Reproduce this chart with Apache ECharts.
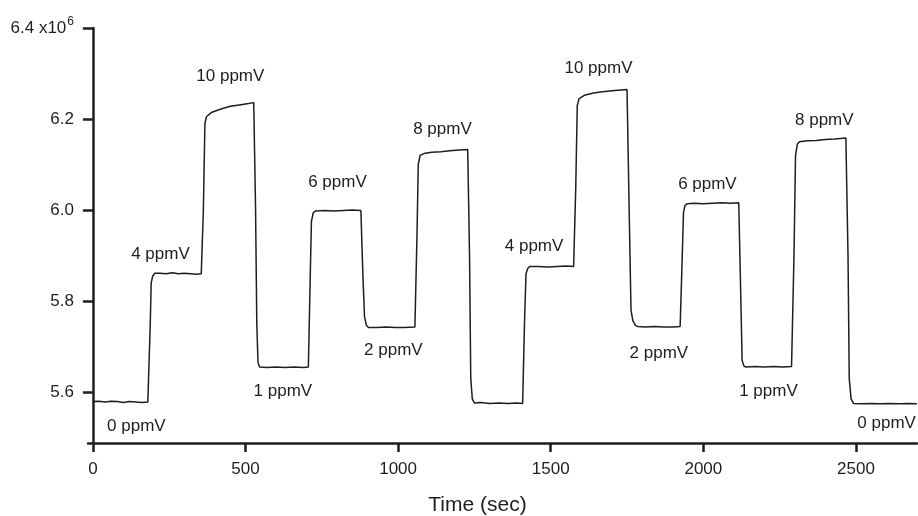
<!DOCTYPE html>
<html>
<head>
<meta charset="utf-8">
<script src="https://cdn.jsdelivr.net/npm/echarts@6/dist/echarts.min.js"></script>
<style>html,body{margin:0;padding:0;background:#fff}#c{width:918px;height:516px}</style>
</head>
<body>
<div id="c"></div>
<script>
// Time (sec) and signal (x10^6 a.u.)
const timeSec = [
 0,20,40,60,80,100,120,140,160,180,
 184,188,191,196,203,
 220,240,260,280,300,320,340,355,
 358,362,367,372,390,420,450,480,510,527,
 530,533,537,541,546,
 570,600,630,660,690,706,
 708,712,716,722,730,
 760,790,820,850,878,
 881,885,890,896,903,
 930,960,990,1020,1055,
 1058,1062,1066,1072,1085,1110,1140,1170,1200,1228,
 1231,1234,1238,1243,1250,
 1270,1300,1330,1360,1390,1408,
 1410,1414,1419,1425,1432,
 1460,1490,1520,1550,1575,
 1578,1582,1587,1593,1610,1640,1670,1700,1730,1750,
 1753,1757,1763,1769,1778,1786,
 1810,1840,1870,1900,1924,
 1927,1931,1935,1940,1947,
 1970,2000,2030,2060,2090,2116,
 2119,2123,2127,2133,2140,
 2170,2200,2230,2260,2289,
 2292,2297,2302,2308,2315,2340,2370,2400,2430,2467,
 2470,2474,2478,2484,2492,
 2520,2550,2580,2610,2640,2670,2700
];
const signal = [
 5.579,5.580,5.578,5.580,5.579,5.577,5.579,5.578,5.577,5.578,
 5.580,5.750,5.840,5.855,5.861,
 5.861,5.860,5.862,5.860,5.861,5.860,5.859,5.860,
 5.862,6.000,6.190,6.205,6.215,6.222,6.228,6.231,6.234,6.236,
 6.235,6.000,5.750,5.665,5.655,
 5.654,5.655,5.654,5.655,5.654,5.655,
 5.656,5.850,5.975,5.994,5.998,
 5.999,5.998,5.999,6.000,5.999,
 5.998,5.850,5.765,5.747,5.742,
 5.742,5.743,5.742,5.742,5.743,
 5.744,5.950,6.100,6.120,6.124,6.127,6.128,6.130,6.132,6.133,
 6.132,5.900,5.630,5.585,5.576,
 5.577,5.575,5.576,5.575,5.576,5.575,
 5.576,5.750,5.860,5.872,5.876,
 5.876,5.875,5.876,5.877,5.876,
 5.878,6.050,6.230,6.245,6.252,6.257,6.260,6.262,6.264,6.265,
 6.264,6.000,5.780,5.757,5.746,5.744,
 5.743,5.744,5.743,5.743,5.744,
 5.745,5.900,5.995,6.010,6.014,
 6.015,6.014,6.015,6.016,6.015,6.016,
 6.015,5.800,5.670,5.657,5.655,
 5.656,5.655,5.656,5.655,5.656,
 5.658,5.900,6.120,6.145,6.150,6.152,6.153,6.155,6.156,6.158,
 6.156,5.900,5.630,5.585,5.575,
 5.574,5.575,5.574,5.575,5.574,5.575,5.574
];
// Concentration annotations (text anchored at data coordinates)
const annoText = ['0 ppmV','4 ppmV','10 ppmV','1 ppmV','6 ppmV','2 ppmV','8 ppmV',
                  '4 ppmV','10 ppmV','2 ppmV','6 ppmV','1 ppmV','8 ppmV','0 ppmV'];
const annoTime = [144,223,452,624,803,986,1147,1447,1658,1856,2015,2215,2398,2602];
const annoSignal = [5.524,5.901,6.293,5.601,6.059,5.691,6.177,5.919,6.311,5.683,6.055,5.601,6.196,5.531];
// Axis ticks
const xTicks = [0,500,1000,1500,2000,2500];
const yTicks = [5.6,5.8,6.0,6.2,6.4];

const FONT = '"Liberation Sans", Arial, sans-serif';
const INK = '#1e1e1e';
const chart = echarts.init(document.getElementById('c'), null, {renderer:'canvas'});
chart.setOption({
  animation: false,
  backgroundColor: '#fff',
  textStyle: {fontFamily: FONT},
  grid: {left: 88, right: 1, top: 28, bottom: 73, containLabel: false, outerBoundsMode: 'none'},
  xAxis: {
    type: 'value', min: -16, max: 2700,
    name: 'Time (sec)', nameLocation: 'middle', nameGap: 52,
    nameTextStyle: {fontSize: 21, color: INK, fontFamily: FONT, padding: [0, 50, 0, 0]},
    axisLine: {show: true, lineStyle: {color: INK, width: 2.5}},
    axisTick: {show: true, inside: false, length: 9, lineStyle: {color: INK, width: 2.5}, customValues: xTicks},
    axisLabel: {show: true, margin: 18, fontSize: 17, color: INK, fontFamily: FONT, customValues: xTicks,
                formatter: v => String(Math.round(v))},
    splitLine: {show: false}
  },
  yAxis: {
    type: 'value', min: 5.488, max: 6.4,
    name: 'Signal (a.u.)', nameLocation: 'middle', nameGap: 62, nameRotate: 90,
    nameTextStyle: {fontSize: 21, color: INK, fontFamily: FONT},
    axisLine: {show: true, lineStyle: {color: INK, width: 2.5}},
    axisTick: {show: true, inside: false, length: 10, lineStyle: {color: INK, width: 2.5}, customValues: yTicks},
    axisLabel: {
      show: true, margin: 14, fontSize: 17, color: INK, fontFamily: FONT, customValues: yTicks,
      formatter: function (v) {
        if (Math.abs(v - 6.4) < 1e-6) return '{a|6.4 x10}{s|6}';
        return v.toFixed(1);
      },
      rich: {
        a: {fontSize: 17, color: INK, fontFamily: FONT},
        s: {fontSize: 12, color: INK, fontFamily: FONT, verticalAlign: 'bottom', padding: [0, 0, 12, 1]}
      }
    },
    splitLine: {show: false}
  },
  series: [
    {
      type: 'line', showSymbol: false, symbol: 'none',
      lineStyle: {color: INK, width: 1.5},
      data: timeSec.map((t, i) => [t, signal[i]]),
      z: 3
    },
    {
      type: 'scatter', symbolSize: 1, silent: true,
      itemStyle: {color: 'rgba(255,255,255,0)', opacity: 1},
      label: {show: true, position: [0, 0], align: 'center', verticalAlign: 'middle',
              formatter: p => p.name, fontSize: 17, color: INK, opacity: 1, fontFamily: FONT,
              textBorderWidth: 0},
      data: annoText.map((s, i) => ({name: s, value: [annoTime[i], annoSignal[i]]})),
      z: 4
    }
  ]
});
</script>
</body>
</html>
